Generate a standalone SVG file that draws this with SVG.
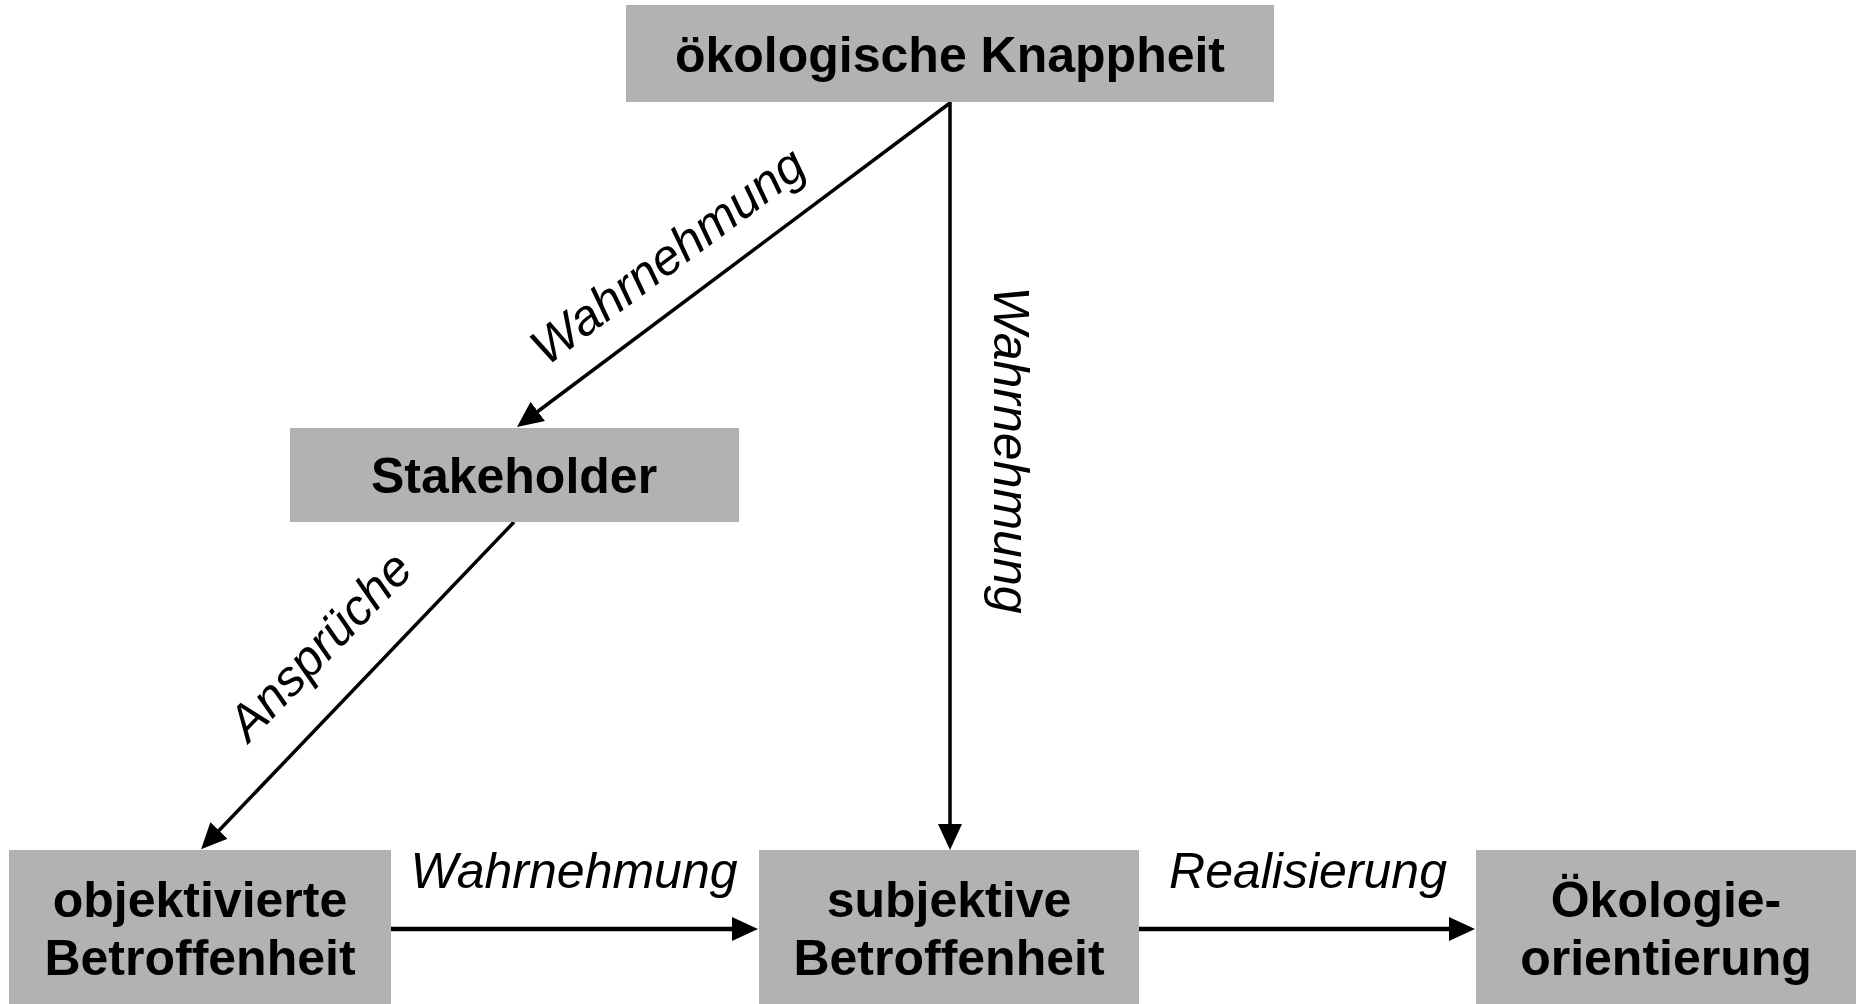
<svg xmlns="http://www.w3.org/2000/svg" width="1856" height="1004" viewBox="0 0 1856 1004">
<style>
.box{fill:#b2b2b2;}
.nt{font-family:"Liberation Sans",Arial,sans-serif;font-weight:bold;font-size:50px;fill:#000;text-anchor:middle;}
.lt{font-family:"Liberation Sans",Arial,sans-serif;font-style:italic;font-size:50px;fill:#000;text-anchor:middle;}
.ln{stroke:#000;stroke-width:3.5;fill:none;}
.lh{stroke:#000;stroke-width:4.5;fill:none;}
</style>
<defs>
<marker id="ah" markerUnits="userSpaceOnUse" markerWidth="28" markerHeight="26" refX="16" refY="12" orient="auto">
<path d="M0,0 L26,12 L0,24 z" fill="#000"/>
</marker>
</defs>
<rect width="1856" height="1004" fill="#fff"/>
<g id="connectors">
<line class="ln" x1="950" y1="102" x2="950" y2="840" marker-end="url(#ah)"/>
<line class="ln" x1="950" y1="103" x2="525" y2="421" marker-end="url(#ah)"/>
<line class="ln" x1="514" y1="522" x2="208" y2="842" marker-end="url(#ah)"/>
<line class="lh" x1="391" y1="929" x2="748" y2="929" marker-end="url(#ah)"/>
<line class="lh" x1="1139" y1="929" x2="1465" y2="929" marker-end="url(#ah)"/>
<text class="lt" transform="translate(667,255) rotate(-36.6)" x="0" y="18">Wahrnehmung</text>
<text class="lt" transform="translate(1012,450) rotate(90)" x="0" y="18">Wahrnehmung</text>
<text class="lt" transform="translate(319,645) rotate(-46)" x="0" y="18">Ansprüche</text>
<text class="lt" x="574" y="888">Wahrnehmung</text>
<text class="lt" x="1308" y="888">Realisierung</text>
</g>
<g id="n-knappheit">
<rect class="box" x="626" y="5" width="648" height="97"/>
<text class="nt" x="950" y="72">ökologische Knappheit</text>
</g>
<g id="n-stakeholder">
<rect class="box" x="290" y="428" width="449" height="94"/>
<text class="nt" x="514" y="493">Stakeholder</text>
</g>
<g id="n-objektiv">
<rect class="box" x="9" y="850" width="382" height="154"/>
<text class="nt" x="200" y="917">objektivierte</text>
<text class="nt" x="200" y="975">Betroffenheit</text>
</g>
<g id="n-subjektiv">
<rect class="box" x="759" y="850" width="380" height="154"/>
<text class="nt" x="949" y="917">subjektive</text>
<text class="nt" x="949" y="975">Betroffenheit</text>
</g>
<g id="n-oeko">
<rect class="box" x="1476" y="850" width="380" height="154"/>
<text class="nt" x="1666" y="917">Ökologie-</text>
<text class="nt" x="1666" y="975">orientierung</text>
</g>
</svg>
